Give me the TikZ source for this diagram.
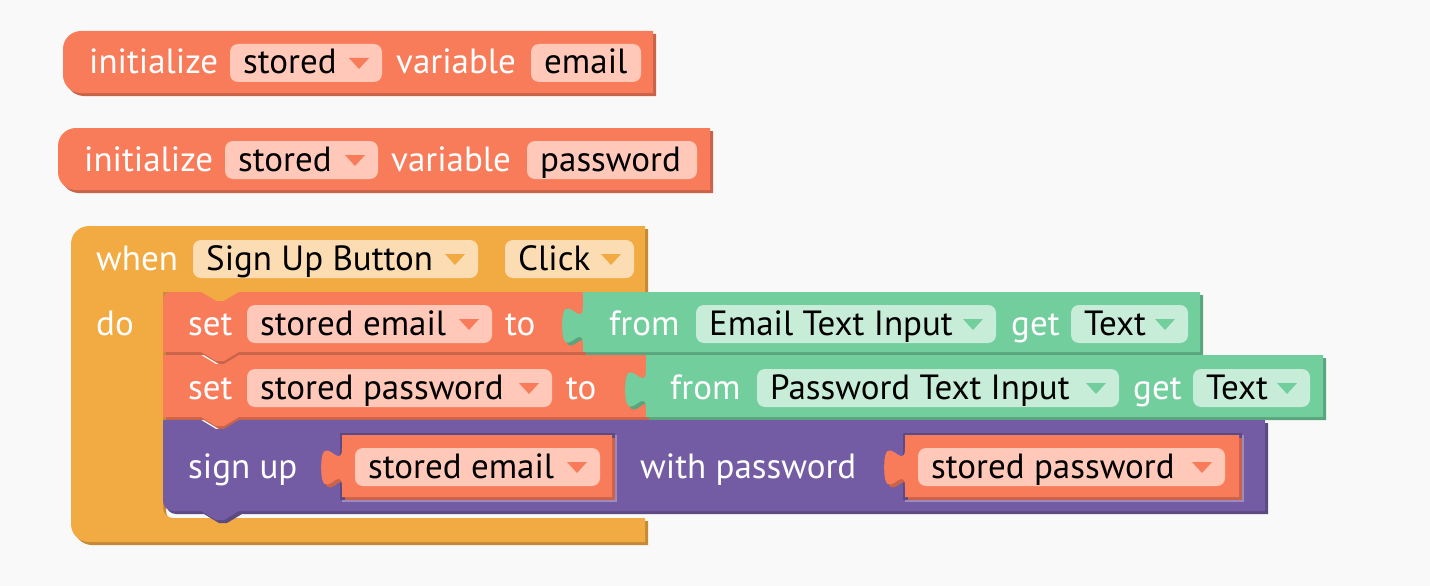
\documentclass[tikz,border=0pt]{standalone}
\usepackage{fontspec}
\setmainfont{PT Sans}
\usetikzlibrary{calc}
\definecolor{canvas}{HTML}{F9F9F9}
\definecolor{varred}{HTML}{F97C5A}
\definecolor{varreddark}{HTML}{C9634A}
\definecolor{varredfld}{HTML}{FFC8B8}
\definecolor{evtorange}{HTML}{F2AA42}
\definecolor{evtorangedark}{HTML}{C68A36}
\definecolor{evtorangefld}{HTML}{FCDDB3}
\definecolor{compgreen}{HTML}{72CE9D}
\definecolor{compgreendark}{HTML}{5BA57E}
\definecolor{compgreenfld}{HTML}{C7EDD8}
\definecolor{authpurple}{HTML}{735CA3}
\definecolor{authpurpledark}{HTML}{5C4A83}
\definecolor{authpurplelight}{HTML}{9D8CC4}
% field with drop-down arrow: name, left, right, mid y, colour, text
\newcommand{\ddfield}[6]{%
	\fill[#5fld, rounded corners=8pt] (#2,#4-19) rectangle (#3,#4+19);
	\node[fldtext] (#1) at (#2+13,#4+11) {#6};
	\fill[#5] (#3-33,#4-5) -- (#3-13,#4-5) -- (#3-23,#4+6) -- cycle;
}
% plain text field
\newcommand{\txtfield}[6]{%
	\fill[#5fld, rounded corners=8pt] (#2,#4-19) rectangle (#3,#4+19);
	\node[fldtext] (#1) at (#2+13,#4+11) {#6};
}
% puzzle tab on the left edge, drawn upwards, top at y=#2
\newcommand{\tabcurve}[2]{.. controls (#1,#2+13) and (#1-20.8,#2+59.8) .. (#1-20.8,#2+19.5) .. controls (#1-20.8,#2-20.8) and (#1,#2+26) .. (#1,#2)}
\newcommand{\notchtop}[1]{-- (201,#1) -- (216,#1+9) -- (224,#1+9) -- (239,#1)}
\newcommand{\tabbottom}[1]{-- (239,#1) -- (224,#1+9) -- (216,#1+9) -- (201,#1)}

\begin{document}
\begin{tikzpicture}
		[x=1pt, y=-1pt,
		blk/.style = {fill=#1, preaction={fill=#1dark, transform canvas={xshift=3pt, yshift=-3pt}}},
		slot/.style = {fill=authpurpledark, preaction={fill=authpurplelight, transform canvas={xshift=2pt, yshift=-2pt}}},
		blktext/.style = {anchor=base west, inner sep=0pt, text=white, font=\fontsize{35}{40}\selectfont},
		fldtext/.style = {blktext, text=black}
		]
	\useasboundingbox (0,0) rectangle (1430,586);
	\fill[canvas] (0,0) rectangle (1430,586);

	% initialize blocks
	\path[blk=varred] (653,31) -- (81,31) arc[start angle=270, end angle=180, radius=18] -- (63,75) arc[start angle=180, end angle=90, radius=18] -- (653,93) -- cycle;
	\node[blktext] (init1) at (89,74) {initialize};
	\ddfield{stored1}{230}{382}{63}{varred}{stored}
	\node[blktext] (var1) at (396,74) {variable};
	\txtfield{email}{531}{641}{63}{varred}{email}

	\path[blk=varred] (710,128) -- (76,128) arc[start angle=270, end angle=180, radius=18] -- (58,172) arc[start angle=180, end angle=90, radius=18] -- (710,190) -- cycle;
	\node[blktext] (init2) at (84,171) {initialize};
	\ddfield{stored2}{225}{378}{160}{varred}{stored}
	\node[blktext] (var2) at (391,171) {variable};
	\txtfield{password}{527}{697}{160}{varred}{password}

	% event block
	\path[blk=evtorange] (71,244) arc[start angle=180, end angle=270, radius=18] -- (645,226) -- (645,292) -- (239,292) -- (224,301) -- (216,301) -- (201,292) -- (163,292) -- (163,508) arc[start angle=180, end angle=90, radius=10] -- (645,518) -- (645,542) -- (89,542) arc[start angle=90, end angle=180, radius=18] -- cycle;
	\node[blktext] (when) at (96,270) {when};
	\ddfield{button}{193}{478}{259}{evtorange}{Sign Up Button}
	\ddfield{click}{505}{634}{259}{evtorange}{Click}
	\node[blktext] (do) at (96,335) {do};

	% set stored email
	\path[blk=varred] (163,300) arc[start angle=180, end angle=270, radius=8] \notchtop{292} -- (583,292) -- (583,352) \tabbottom{352} -- (163,352) -- cycle;
	\node[blktext] (set1) at (188,335) {set};
	\ddfield{semail}{247}{492}{324}{varred}{stored email}
	\node[blktext] (to1) at (505,335) {to};
	\path[blk=compgreen] (583,292) -- (1200,292) -- (1200,352) -- (583,352) -- (583,345) \tabcurve{583}{306} -- cycle;
	\node[blktext] (from1) at (609,335) {from};
	\ddfield{emailin}{696}{996}{324}{compgreen}{Email Text Input}
	\node[blktext] (get1) at (1011,335) {get};
	\ddfield{text1}{1071}{1188}{324}{compgreen}{Text}

	% set stored password
	\path[blk=varred] (163,355) \notchtop{355} -- (646,355) -- (646,417) \tabbottom{417} -- (163,417) -- cycle;
	\node[blktext] (set2) at (188,399) {set};
	\ddfield{spass}{247}{552}{388}{varred}{stored password}
	\node[blktext] (to2) at (566,399) {to};
	\path[blk=compgreen] (646,355) -- (1323,355) -- (1323,417) -- (646,417) -- (646,409) \tabcurve{646}{370} -- cycle;
	\node[blktext] (from2) at (670,399) {from};
	\ddfield{passin}{757}{1119}{388}{compgreen}{Password Text Input}
	\node[blktext] (get2) at (1133,399) {get};
	\ddfield{text2}{1193}{1310}{388}{compgreen}{Text}

	% sign up
	\path[blk=authpurple] (163,420) \notchtop{420} -- (1265,420) -- (1265,511) \tabbottom{511} -- (173,511) arc[start angle=90, end angle=180, radius=10] -- cycle;
	\node[blktext] (signup) at (188,478) {sign up};
	\path[slot] (340,433) rectangle (615,500);
	\path[blk=varred] (342,435) -- (612,435) -- (612,497) -- (342,497) -- (342,487) \tabcurve{342}{448} -- cycle;
	\ddfield{argemail}{355}{600}{467}{varred}{stored email}
	\node[blktext] (withpw) at (640,478) {with password};
	\path[slot] (903,433) rectangle (1242,500);
	\path[blk=varred] (905,435) -- (1239,435) -- (1239,497) -- (905,497) -- (905,487) \tabcurve{905}{448} -- cycle;
	\ddfield{argpass}{918}{1225}{467}{varred}{stored password}
\end{tikzpicture}
\end{document}
